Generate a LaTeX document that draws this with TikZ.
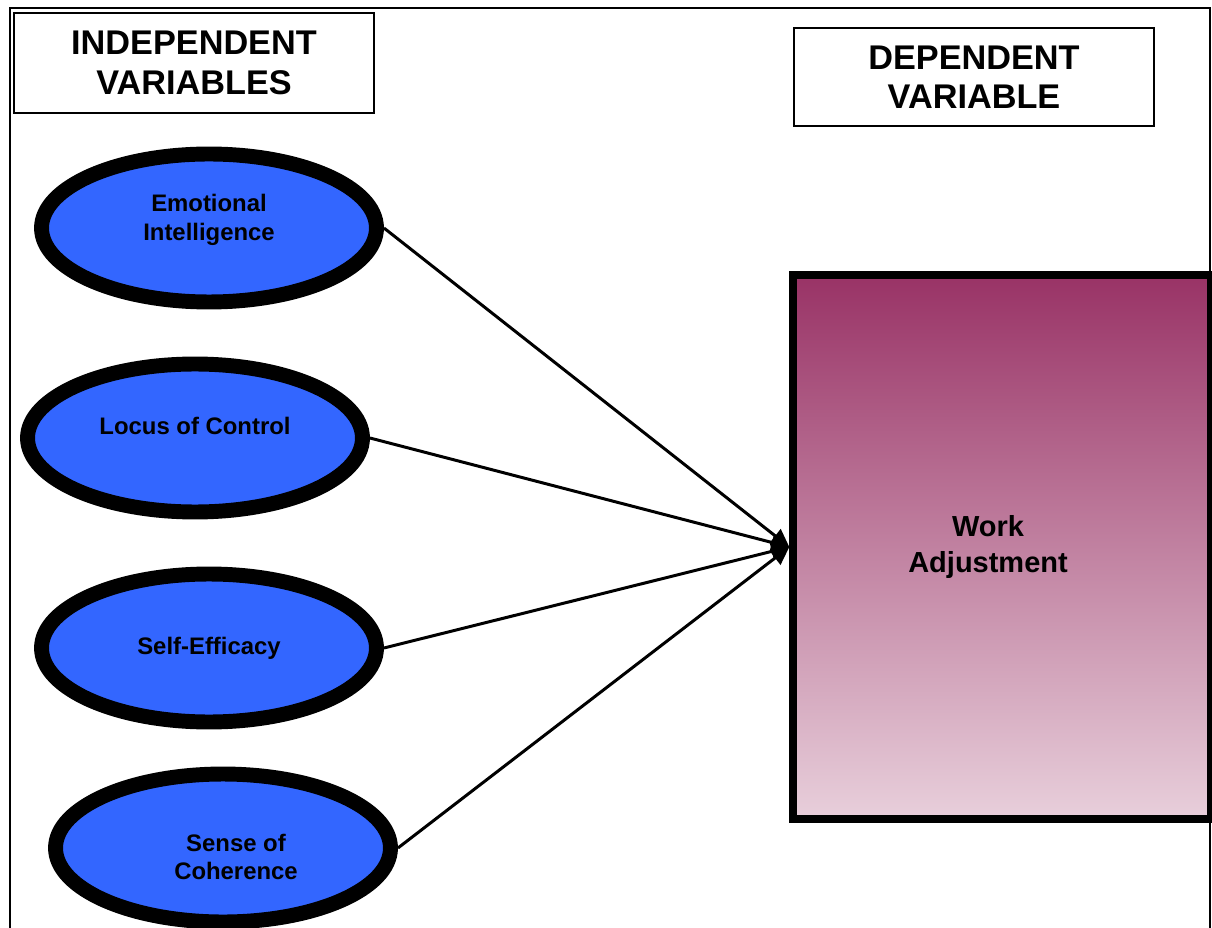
\documentclass[tikz,border=0pt]{standalone}
\usepackage{fontspec}
\setmainfont{Liberation Sans}
\usetikzlibrary{shapes.geometric, arrows.meta}
\definecolor{varblue}{HTML}{3366FF}
\definecolor{plumtop}{HTML}{993366}
\definecolor{plumbottom}{HTML}{E8CFDB}

\begin{document}
\begin{tikzpicture}[x=0.02cm, y=-0.02cm,
  headbox/.style={draw, line width=1.1pt, minimum width=7.2cm, minimum height=2cm, inner sep=0pt, align=center, font=\fontsize{19.5}{22.5}\selectfont\bfseries},
  varoval/.style={ellipse, draw, line width=8.5pt, fill=varblue, minimum width=6.7cm, minimum height=2.96cm, inner sep=0pt},
  ovaltext/.style={align=center, inner sep=0pt, font=\fontsize{13.6}{16.4}\selectfont\bfseries},
  link/.style={line width=1.7pt, -{Triangle[length=0.36cm, width=0.34cm]}}]
  \clip (0,0) rectangle (1212,928);
  \draw[line width=1.1pt] (10,950) -- (10,8) -- (1210,8) -- (1210,950);

  \node[headbox] (indep) at (194,63) {INDEPENDENT\\VARIABLES};
  \node[headbox, minimum height=1.96cm] (dep) at (974,77) {DEPENDENT\\VARIABLE};

  \node[varoval, label={[ovaltext, yshift=0.16cm]center:Emotional\\Intelligence}] (emotional) at (209,228) {};
  \node[varoval, label={[ovaltext, yshift=0.24cm]center:Locus of Control}] (locus) at (195,438) {};
  \node[varoval, label={[ovaltext]center:Self-Efficacy}] (efficacy) at (209,648) {};
  \node[varoval, label={[ovaltext, xshift=0.26cm, yshift=-0.18cm]center:Sense of\\Coherence}] (coherence) at (223,848) {};

  \node[draw, line width=4.5pt, top color=plumtop, bottom color=plumbottom, minimum width=8.35cm, minimum height=10.87cm, inner sep=0pt, label={[align=center, xshift=-0.28cm, font=\fontsize{16.5}{20.4}\selectfont\bfseries]center:Work\\Adjustment}] (work) at (1002,547) {};

  \draw[link] (emotional.east) -- (work.west);
  \draw[link] (locus.east) -- (work.west);
  \draw[link] (efficacy.east) -- (work.west);
  \draw[link] (coherence.east) -- (work.west);
\end{tikzpicture}
\end{document}
